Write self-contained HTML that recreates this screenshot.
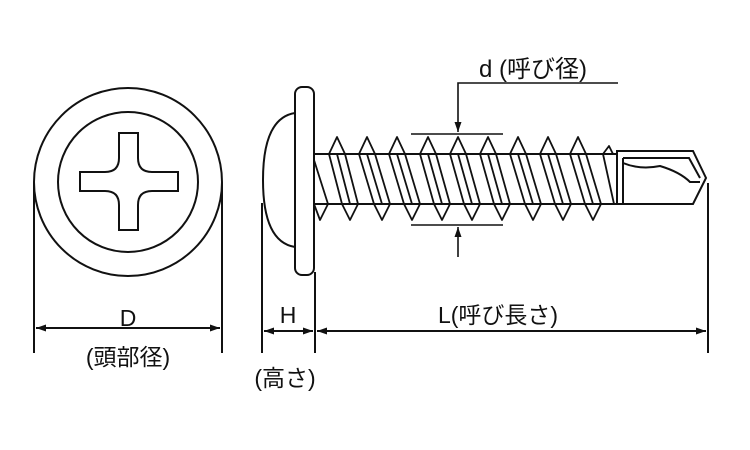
<!DOCTYPE html>
<html><head><meta charset="utf-8"><style>
html,body{margin:0;padding:0;background:#fff;}
svg{display:block;}
text{font-family:"Liberation Sans","Noto Sans CJK JP",sans-serif;fill:#111;}
</style></head><body>
<svg width="750" height="450" viewBox="0 0 750 450" xmlns="http://www.w3.org/2000/svg">
<defs>
<marker id="a" viewBox="0 0 10 10" refX="10" refY="5" markerWidth="12" markerHeight="10" markerUnits="userSpaceOnUse" orient="auto-start-reverse"><path d="M0,1.5L10,5L0,8.5z" fill="#111"/></marker>
</defs>
<g fill="none" stroke="#111" stroke-width="2">
<circle cx="128" cy="182" r="94"/>
<circle cx="128" cy="182" r="70"/>
<path d="M119,133H138V158Q138,172 152,172H178V191H152Q138,191 138,205V230H119V205Q119,191 105,191H80V172H105Q119,172 119,158Z"/>
<line x1="34" y1="182" x2="34" y2="353"/>
<line x1="222" y1="182" x2="222" y2="353"/>
<line x1="36" y1="328" x2="220" y2="328" marker-start="url(#a)" marker-end="url(#a)"/>
<rect x="295" y="87" width="19" height="188" rx="7"/>
<path d="M295,113Q263,118 263,180Q263,242 295,247"/>
<line x1="314" y1="154" x2="617" y2="154"/>
<line x1="314" y1="204" x2="617" y2="204"/>
<path d="M617,151H693L706,178L693,204H617Z"/>
<line x1="623" y1="158" x2="623" y2="204"/>
<path d="M623,158H689L700,178"/>
<path d="M623,163Q640,170 660,166Q680,172 690,182H700"/>
<g stroke-width="1.8" stroke-linejoin="round">
<path d="M329,154L337,137L345,154M359,154L367,137L375,154M389,154L397,137L405,154M420,154L428,137L436,154M450,154L458,137L466,154M480,154L488,137L496,154M510,154L518,137L526,154M540,154L548,137L556,154M570,154L578,137L586,154M603,154L609,146L613,154"/>
<path d="M314,204L320,220L328,204M342,204L350,220L358,204M374,204L382,220L390,204M404,204L412,220L420,204M434,204L442,220L450,204M464,204L472,220L480,204M494,204L502,220L510,204M525,204L533,220L541,204M555,204L563,220L571,204M585,204L593,220L601,204"/>
<path d="M329,154L342,204M345,154L358,204M337,154L350,204M359,154L374,204M375,154L390,204M367,154L382,204M389,154L404,204M405,154L420,204M397,154L412,204M420,154L434,204M436,154L450,204M428,154L442,204M450,154L464,204M466,154L480,204M458,154L472,204M480,154L494,204M496,154L510,204M488,154L502,204M510,154L525,204M526,154L541,204M518,154L533,204M540,154L555,204M556,154L571,204M548,154L563,204M570,154L585,204M586,154L601,204M578,154L593,204M603,154L614,204M314,160L328,204"/>
</g>
<line x1="411" y1="134" x2="503" y2="134" stroke-width="1.6"/>
<line x1="411" y1="225" x2="503" y2="225" stroke-width="1.6"/>
<path d="M618,83H458V132" stroke-width="1.6" marker-end="url(#a)"/>
<line x1="458" y1="257" x2="458" y2="227" stroke-width="1.6" marker-end="url(#a)"/>
<line x1="262" y1="203" x2="262" y2="353"/>
<line x1="315" y1="272" x2="315" y2="353"/>
<line x1="708" y1="183" x2="708" y2="353"/>
<line x1="264" y1="331" x2="313" y2="331" marker-start="url(#a)" marker-end="url(#a)"/>
<line x1="317" y1="331" x2="706" y2="331" marker-start="url(#a)" marker-end="url(#a)"/>
</g>
<text x="128" y="326" font-size="23" text-anchor="middle">D</text>
<text x="128" y="365" font-size="23" text-anchor="middle">(頭部径)</text>
<text x="288" y="323" font-size="23" text-anchor="middle">H</text>
<text x="285" y="386" font-size="23" text-anchor="middle">(高さ)</text>
<text x="498" y="323" font-size="23" text-anchor="middle">L(呼び長さ)</text>
<text x="533" y="77" font-size="24" text-anchor="middle">d (呼び径)</text>
</svg>
</body></html>
